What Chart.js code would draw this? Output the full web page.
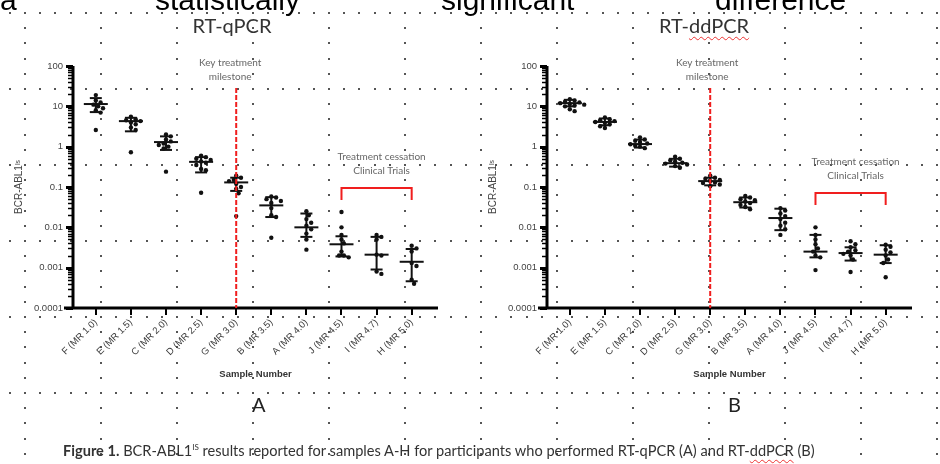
<!DOCTYPE html>
<html>
<head>
<meta charset="utf-8">
<script src="https://cdn.jsdelivr.net/npm/chart.js@4.4.0/dist/chart.umd.min.js"></script>
<style>
    html, body { margin: 0; padding: 0; background: #fff; width: 940px; height: 464px; overflow: hidden; position: relative; }
    #dots { position: absolute; left: 0; top: 0; }
    .word { position: absolute; top: -15px; font-family: "Liberation Sans", Arial, sans-serif; font-size: 30px; line-height: 30px; color: #000; white-space: nowrap; }
    .title { position: absolute; top: 15px; font-family: Lato, sans-serif; font-size: 20px; line-height: 20px; color: #333; white-space: nowrap; transform: translateX(-50%); }
    .panel { position: absolute; top: 394px; font-family: Lato, sans-serif; font-size: 20px; line-height: 20px; color: #222; }
    .caption { position: absolute; left: 63px; top: 440px; font-family: Lato, sans-serif; font-size: 14.6px; line-height: 14px; color: #333; white-space: nowrap; }
    .spell { text-decoration: underline wavy #e33; text-decoration-thickness: 1px; text-underline-offset: 3px; }
    canvas.chart { position: absolute; top: 40px; }
</style>
</head>
<body>
<canvas id="dots" width="940" height="464"></canvas>

<div class="word" style="left:0px">a</div>
<div class="word" style="left:155px">statistically</div>
<div class="word" style="left:441px">significant</div>
<div class="word" style="left:715px">difference</div>

<div class="title" style="left:232px">RT-qPCR</div>
<div class="title" style="left:704px">RT-<span class="spell">ddPCR</span></div>

<canvas id="qpcrChart" class="chart" width="470" height="360" style="left:0px"></canvas>
<canvas id="ddpcrChart" class="chart" width="470" height="360" style="left:470px"></canvas>

<div class="panel" style="left:252px">A</div>
<div class="panel" style="left:728px">B</div>

<div class="caption"><b>Figure 1.</b> BCR-ABL1<sup style="font-size:8px">IS</sup> results reported for samples A-H for participants who performed RT-qPCR (A) and RT-<span class="spell">ddPCR</span> (B)</div>

<script>
const categories = ["F (MR 1.0)", "E (MR 1.5)", "C (MR 2.0)", "D (MR 2.5)", "G (MR 3.0)",
    "B (MR 3.5)", "A (MR 4.0)", "J (MR 4.5)", "I (MR 4.7)", "H (MR 5.0)"];
const yTickValues = [0.0001, 0.001, 0.01, 0.1, 1, 10, 100];
const yTickLabels = ["0.0001", "0.001", "0.01", "0.1", "1", "10", "100"];

// RT-qPCR (A) - individual results per sample
const qpcrValues = [
    [19, 14, 12.5, 11, 10, 9, 8, 7, 2.6],
    [5.5, 4.8, 4.5, 4.3, 4.0, 3.6, 3.0, 2.6, 0.73],
    [2.0, 1.8, 1.5, 1.35, 1.2, 1.1, 1.0, 0.9, 0.24],
    [0.6, 0.55, 0.5, 0.47, 0.43, 0.4, 0.35, 0.28, 0.26, 0.072],
    [0.19, 0.17, 0.15, 0.14, 0.12, 0.1, 0.09, 0.07, 0.019],
    [0.058, 0.055, 0.05, 0.045, 0.04, 0.03, 0.02, 0.018, 0.0055],
    [0.025, 0.02, 0.016, 0.013, 0.011, 0.009, 0.007, 0.005, 0.0028],
    [0.024, 0.01, 0.0065, 0.005, 0.004, 0.0025, 0.002, 0.002, 0.0018],
    [0.0065, 0.0058, 0.005, 0.0021, 0.002, 0.0008, 0.0007],
    [0.0035, 0.003, 0.0025, 0.0013, 0.0011, 0.0005, 0.0004]
];
const qpcrCentre = [11.4, 4.3, 1.3, 0.42, 0.13, 0.035, 0.01, 0.0038, 0.0021, 0.0014];
const qpcrHigh = [16, 5.2, 1.8, 0.55, 0.17, 0.056, 0.022, 0.006, 0.0058, 0.0029];
const qpcrLow = [7.2, 2.4, 0.83, 0.23, 0.08, 0.018, 0.0058, 0.0019, 0.0009, 0.00046];

// RT-ddPCR (B)
const ddpcrValues = [
    [15, 14, 13, 12.5, 12, 11.5, 11, 10.5, 10, 8.5, 7.6],
    [5.3, 4.8, 4.5, 4.3, 4.1, 3.9, 3.6, 3.2, 2.9],
    [1.7, 1.5, 1.4, 1.3, 1.2, 1.15, 1.05, 1.0, 0.92],
    [0.56, 0.5, 0.46, 0.43, 0.4, 0.38, 0.36, 0.33, 0.3],
    [0.19, 0.17, 0.16, 0.15, 0.14, 0.13, 0.125, 0.115, 0.105],
    [0.06, 0.055, 0.05, 0.047, 0.044, 0.04, 0.036, 0.032, 0.028],
    [0.03, 0.026, 0.022, 0.019, 0.016, 0.013, 0.011, 0.009, 0.0065],
    [0.01, 0.0065, 0.005, 0.0038, 0.003, 0.0025, 0.002, 0.0018, 0.00087],
    [0.0045, 0.0038, 0.0032, 0.0027, 0.0025, 0.0022, 0.002, 0.0016, 0.00078],
    [0.0037, 0.0033, 0.0028, 0.0024, 0.002, 0.0016, 0.0013, 0.00058]
];
const ddpcrCentre = [12, 4.1, 1.16, 0.39, 0.14, 0.042, 0.017, 0.0025, 0.0023, 0.0021];
const ddpcrHigh = [14.5, 5.0, 1.5, 0.5, 0.17, 0.055, 0.029, 0.0065, 0.0032, 0.0036];
const ddpcrLow = [10, 3.4, 0.95, 0.32, 0.11, 0.031, 0.0085, 0.0018, 0.0015, 0.0013];

const milestoneIndex = 4;   // G (MR 3.0)
const cessationFrom = 7;    // J
const cessationTo = 9;      // H

// background dot grid of the page
function drawDots() {
    const ctx = document.getElementById("dots").getContext("2d");
    const big = 76, step = 15.2;
    ctx.fillStyle = "#555";
    for (let y = 13; y < 464; y += big) {
        for (let x = 25 - step; x < 940; x += step) ctx.fillRect(Math.round(x) - 1, y - 1, 2, 2);
    }
    for (let x = 25; x < 940; x += big) {
        for (let y = 13; y < 464; y += step) ctx.fillRect(Math.round(x) - 1, Math.round(y) - 1, 2, 2);
    }
}
drawDots();

// spread points sideways so they don't overlap (scatter dot plot)
function swarmOffsets(values, radius) {
    const pxPerDecade = 40.3, pxPerUnit = 35.1;
    const placed = [];
    const out = new Array(values.length).fill(0);
    const order = values.map((v, i) => i).sort((a, b) => values[b] - values[a]);
    order.forEach(i => {
        const py = Math.log10(values[i]) * pxPerDecade;
        let k = 0, dx = 0;
        while (true) {
            dx = (k % 2 ? 1 : -1) * Math.ceil(k / 2) * radius;
            if (placed.every(p => Math.hypot(p.x - dx, p.y - py) >= radius * 1.9)) break;
            k++;
        }
        placed.push({ x: dx, y: py });
        out[i] = dx / pxPerUnit;
    });
    return out;
}

const paperPlugin = {
    id: "paper",
    afterDatasetsDraw(chart, args, o) {
        const { ctx, chartArea: a, scales: { x, y } } = chart;
        const line = (x1, y1, x2, y2) => { ctx.beginPath(); ctx.moveTo(x1, y1); ctx.lineTo(x2, y2); ctx.stroke(); };
        ctx.save();

        // centre line + error bars
        ctx.strokeStyle = "#111";
        ctx.lineWidth = 2;
        o.centre.forEach((c, i) => {
            const px = x.getPixelForValue(i);
            const yc = y.getPixelForValue(c);
            const yh = y.getPixelForValue(o.high[i]);
            const yl = y.getPixelForValue(o.low[i]);
            line(px - 12, yc, px + 12, yc);
            line(px, yh, px, yl);
            line(px - 6, yh, px + 6, yh);
            line(px - 6, yl, px + 6, yl);
        });

        // axes
        ctx.strokeStyle = "#000";
        ctx.lineWidth = 3;
        line(a.left, a.top, a.left, a.bottom);
        line(a.left - 9, a.bottom, a.right, a.bottom);
        for (let e = -4; e <= 2; e++) {
            for (let m = 1; m <= 9; m++) {
                if (e === 2 && m > 1) break;
                const py = Math.round(y.getPixelForValue(m * Math.pow(10, e))) + 0.5;
                ctx.lineWidth = m === 1 ? 3 : 1.5;
                line(a.left - (m === 1 ? 7 : 5), py, a.left, py);
            }
        }
        ctx.lineWidth = 2;
        categories.forEach((c, i) => {
            const px = Math.round(x.getPixelForValue(i));
            line(px, a.bottom, px, a.bottom + 7);
        });

        // key treatment milestone
        const mx = x.getPixelForValue(milestoneIndex);
        ctx.strokeStyle = "#f01e1e";
        ctx.lineWidth = 2;
        ctx.setLineDash([5, 2]);
        line(mx, a.top + 22, mx, a.bottom);
        ctx.setLineDash([]);

        ctx.fillStyle = "#666";
        ctx.font = "10px Lato, sans-serif";
        ctx.textAlign = "center";
        ctx.textBaseline = "middle";
        ctx.fillText("Key treatment", mx + o.milestoneShift, a.top - 3);
        ctx.fillText("milestone", mx + o.milestoneShift, a.top + 11);

        // treatment cessation bracket
        const bx1 = x.getPixelForValue(cessationFrom);
        const bx2 = x.getPixelForValue(cessationTo);
        const by = a.top + o.bracketTop;
        ctx.fillText("Treatment cessation", (bx1 + bx2) / 2 + 5, by - 31);
        ctx.fillText("Clinical Trials", (bx1 + bx2) / 2 + 5, by - 17);
        ctx.strokeStyle = "#f01e1e";
        ctx.lineWidth = 2;
        ctx.beginPath();
        ctx.moveTo(bx1, by + 12);
        ctx.lineTo(bx1, by);
        ctx.lineTo(bx2, by);
        ctx.lineTo(bx2, by + 12);
        ctx.stroke();
        ctx.restore();
    }
};

function makeChart(canvasId, values, centre, low, high, padLeft, padRight, extra) {
    const points = [];
    values.forEach((group, i) => {
        const offs = swarmOffsets(group, 2.4);
        group.forEach((v, j) => points.push({ x: i + offs[j], y: v }));
    });

    return new Chart(document.getElementById(canvasId), {
        type: "scatter",
        data: {
            datasets: [{
                data: points,
                pointRadius: 2.2,
                pointBackgroundColor: "#111",
                pointBorderWidth: 0
            }]
        },
        options: {
            responsive: false,
            animation: false,
            layout: { padding: { left: padLeft, right: padRight, top: 26, bottom: 0 } },
            plugins: {
                legend: { display: false },
                tooltip: { enabled: false },
                paper: Object.assign({ centre: centre, low: low, high: high }, extra)
            },
            scales: {
                x: {
                    type: "linear",
                    min: -0.65,
                    max: 9.75,
                    grid: { display: false, drawTicks: false },
                    border: { display: false },
                    afterBuildTicks: scale => { scale.ticks = categories.map((c, i) => ({ value: i })); },
                    afterFit: scale => { scale.height = 92; scale.paddingLeft = 0; scale.paddingRight = 0; },
                    ticks: {
                        callback: v => categories[v],
                        minRotation: 45,
                        maxRotation: 45,
                        padding: 9,
                        color: "#3a3a3a",
                        font: { size: 9.5 }
                    },
                    title: {
                        display: true,
                        text: "Sample Number",
                        color: "#333",
                        font: { size: 9.5, weight: "bold" },
                        padding: { top: 0, bottom: 20 }
                    }
                },
                y: {
                    type: "logarithmic",
                    min: 0.0001,
                    max: 100,
                    grid: { display: false, drawTicks: false },
                    border: { display: false },
                    afterBuildTicks: scale => { scale.ticks = yTickValues.map(v => ({ value: v, major: true })); },
                    afterFit: scale => { scale.width = 60; scale.paddingTop = 0; scale.paddingBottom = 0; },
                    ticks: {
                        callback: (v, i) => yTickLabels[i],
                        padding: 10,
                        color: "#444",
                        font: { size: 9.5 }
                    },
                    title: {
                        display: true,
                        text: "BCR-ABL1ᴵˢ",
                        color: "#444",
                        font: { size: 10 },
                        padding: { top: 0, bottom: 0 }
                    }
                }
            }
        },
        plugins: [paperPlugin]
    });
}

Chart.defaults.font.family = "'Liberation Sans', Arial, sans-serif";

makeChart("qpcrChart", qpcrValues, qpcrCentre, qpcrLow, qpcrHigh, 13, 32,
    { milestoneShift: -6, bracketTop: 122 });
makeChart("ddpcrChart", ddpcrValues, ddpcrCentre, ddpcrLow, ddpcrHigh, 17, 28,
    { milestoneShift: -3, bracketTop: 127 });
</script>
</body>
</html>
